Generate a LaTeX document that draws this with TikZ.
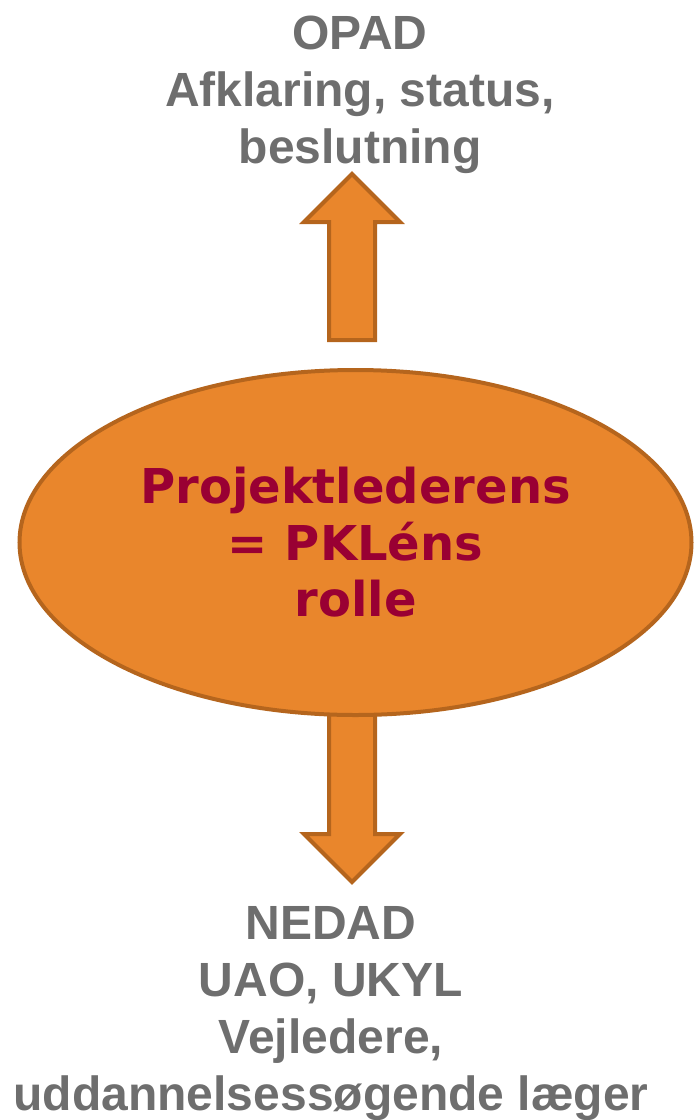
\documentclass[tikz,border=0pt]{standalone}
\usepackage{fontspec}
\setmainfont{Liberation Sans}
\newfontfamily\verdanafont{DejaVu Sans}
\usetikzlibrary{calc}
\usetikzlibrary{shapes.geometric}
\usetikzlibrary{backgrounds}

\definecolor{pilorange}{HTML}{E9862C}
\definecolor{pilkant}{HTML}{B5651D}
\definecolor{tekstgraa}{HTML}{6E6E6E}
\definecolor{rollerod}{HTML}{990033}

\begin{document}
\begin{tikzpicture}[x=1pt,y=-1pt,
  blokpil/.style={fill=pilorange,draw=pilkant,line width=4pt},
  retning/.style={text=tekstgraa,font=\fontsize{48}{56.7}\selectfont\bfseries,align=center,inner sep=0pt,anchor=base},
  rolle/.style={ellipse,fill=pilorange,draw=pilkant,line width=4pt,text=rollerod,
    font=\verdanafont\fontsize{48}{56.5}\selectfont\bfseries,align=center,
    minimum width=672pt,minimum height=345pt}]
\useasboundingbox (0,0) rectangle (695,1120);

\node[retning] (opad) at (360,163) {OPAD\\Afklaring, status,\\beslutning};
\node[rolle] (pkl) at (355.5,542.5) {Projektlederens\\= PKLéns\\rolle};
\node[retning] (nedad) at (331,1110) {NEDAD\\UAO, UKYL\\Vejledere,\\uddannelsessøgende læger};

\coordinate (opbund) at (352,340);
\coordinate (opspids) at (352,174);
\coordinate (nedtop) at (352,700);
\coordinate (nedspids) at (352,882);

\begin{pgfonlayer}{background}
\draw[blokpil] ($(opbund)+(-23,0)$) -- ($(opspids)+(-23,48)$) -- ($(opspids)+(-48,48)$) -- (opspids)
  -- ($(opspids)+(48,48)$) -- ($(opspids)+(23,48)$) -- ($(opbund)+(23,0)$) -- cycle;
\draw[blokpil] ($(nedtop)+(-23,0)$) -- ($(nedspids)+(-23,-48)$) -- ($(nedspids)+(-48,-48)$) -- (nedspids)
  -- ($(nedspids)+(48,-48)$) -- ($(nedspids)+(23,-48)$) -- ($(nedtop)+(23,0)$) -- cycle;
\end{pgfonlayer}
\end{tikzpicture}
\end{document}
